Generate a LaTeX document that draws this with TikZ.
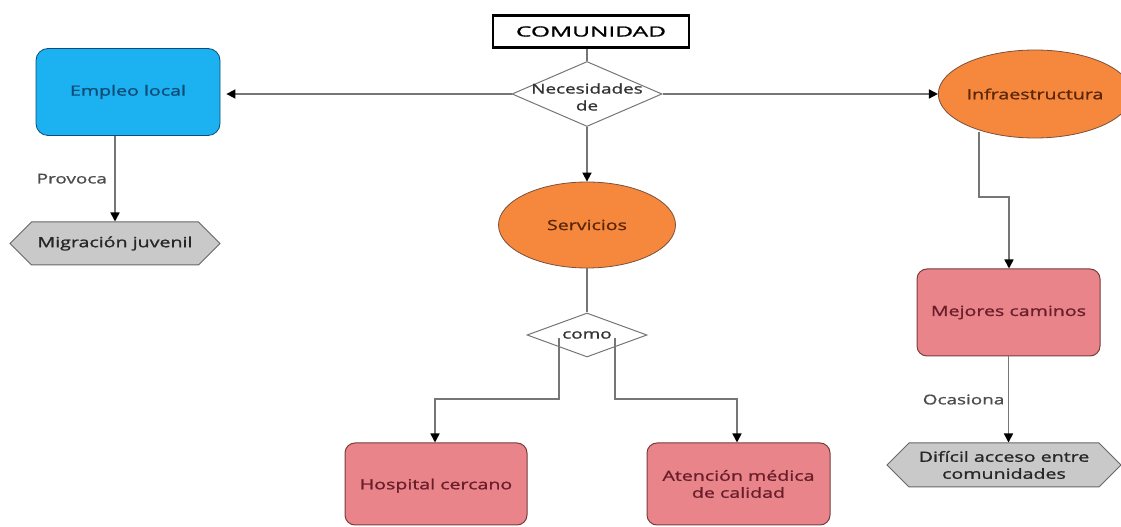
\documentclass[tikz,border=0pt]{standalone}
\usepackage{fontspec}
\setmainfont{Open Sans}[FakeStretch=1.4,FakeBold=1.2]
\newfontfamily\widefont{Open Sans}[FakeStretch=1.75,FakeBold=1.2]
\usepackage{tikz}
\usetikzlibrary{shapes.geometric,shapes.symbols,arrows.meta,positioning}
\usepackage{xcolor}

\definecolor{empleofill}{HTML}{1CB1F0}
\definecolor{empleotext}{HTML}{0E4C78}
\definecolor{naranja}{HTML}{F5883C}
\definecolor{naranjatext}{HTML}{5A260A}
\definecolor{rosa}{HTML}{E8848A}
\definecolor{rosatext}{HTML}{6A1E2A}
\definecolor{rosaborde}{HTML}{7A3C3C}
\definecolor{gris}{HTML}{C9C9C9}
\definecolor{linea}{HTML}{767676}

\tikzset{
    >={Triangle[width=9pt,length=9pt,black]},
    caja/.style={rectangle, rounded corners=10pt, draw=rosaborde, line width=1pt,
        fill=rosa, text=rosatext, font=\fontsize{14}{17}\selectfont, align=center},
    ovalo/.style={ellipse, draw=naranjatext!80, line width=0.8pt, fill=naranja,
        text=naranjatext, font=\fontsize{14}{17}\selectfont, inner sep=0pt},
    rombo/.style={diamond, draw=linea, line width=1pt, fill=white,
        font=\fontsize{13.5}{17}\selectfont, text=black!80, inner sep=1pt},
    hexa/.style={signal, signal to=east and west, draw=black!60, line width=1pt,
        fill=gris, text=black!85, font=\fontsize{14}{17}\selectfont, align=center, inner sep=0pt},
    flecha/.style={->, draw=linea, line width=1.6pt},
    conector/.style={draw=linea, line width=1.6pt},
    etiqueta/.style={font=\fontsize{13.5}{16}\selectfont, text=black!70}
}

\begin{document}
\begin{tikzpicture}[x=1pt,y=1pt]
    \useasboundingbox (0,0) rectangle (1121,527);

    % Top of the map
    \node[draw=black, line width=2.2pt, minimum width=196pt, minimum height=32pt,
          font=\widefont\fontsize{14}{17}\selectfont] (comunidad) at (591,495.5) {COMUNIDAD};
    \node[rombo, minimum width=150pt, minimum height=65pt,
          label={[font=\fontsize{13.5}{17}\selectfont, align=center, text=black!80, yshift=-3pt]center:Necesidades\\de}]
          (necesidades) at (587,433) {};

    % Three branches
    \node[rectangle, rounded corners=12pt, draw=empleotext, line width=0.8pt, fill=empleofill,
          text=empleotext, font=\fontsize{14}{17}\selectfont,
          minimum width=184pt, minimum height=87pt] (empleo) at (128,435) {Empleo local};
    \node[ovalo, minimum width=177pt, minimum height=86pt] (servicios) at (587,302) {Servicios};
    \node[ovalo, minimum width=172pt, minimum height=88pt] (infra) at (1035,433) {Infraestructura};

    % Consequences
    \node[hexa, minimum width=210pt, minimum height=43pt] (migracion) at (115,283.5) {Migración juvenil};
    \node[rombo, shape aspect=2.7, minimum width=120pt, minimum height=44pt] (como) at (587,192) {como};
    \node[caja, minimum width=182pt, minimum height=82pt, text depth=-18pt] (hospital) at (436,43) {Hospital cercano};
    \node[caja, minimum width=183pt, minimum height=82pt] (atencion) at (738.5,43) {Atención médica\\de calidad};
    \node[caja, minimum width=183pt, minimum height=87pt] (mejores) at (1008.5,214.5) {Mejores caminos};
    \node[hexa, minimum width=234pt, minimum height=44pt] (dificil) at (1004,62) {Difícil acceso entre\\comunidades};

    % Connectors
    \draw[conector] (comunidad.south -| necesidades.north) -- (necesidades.north);
    \draw[flecha, shorten >=6pt] (necesidades.west) -- (necesidades.west -| empleo.east);
    \draw[flecha] (necesidades.east) -- (necesidades.east -| infra.west);
    \draw[flecha] (necesidades.south) -- (servicios.north);
    \draw[conector] (servicios.south) -- (como.north);
    \draw[flecha] (como.south west) ++(2,8) |- (435,128) -- (hospital.north -| 435,0);
    \draw[flecha] (como.south east) ++(-2,8) |- (737,128) -- (atencion.north -| 737,0);
    \draw[flecha] (infra.south) ++(-56,6) |- (1009,330) -- (mejores.north -| 1009,0);
    \draw[flecha] (empleo.south -| migracion.north) -- (migracion.north)
        node[etiqueta, midway, left=4pt] (provoca) {Provoca};
    \draw[flecha] (mejores.south) -- (dificil.north -| mejores.south)
        node[etiqueta, midway, left=0pt] (ocasiona) {Ocasiona};
\end{tikzpicture}
\end{document}
